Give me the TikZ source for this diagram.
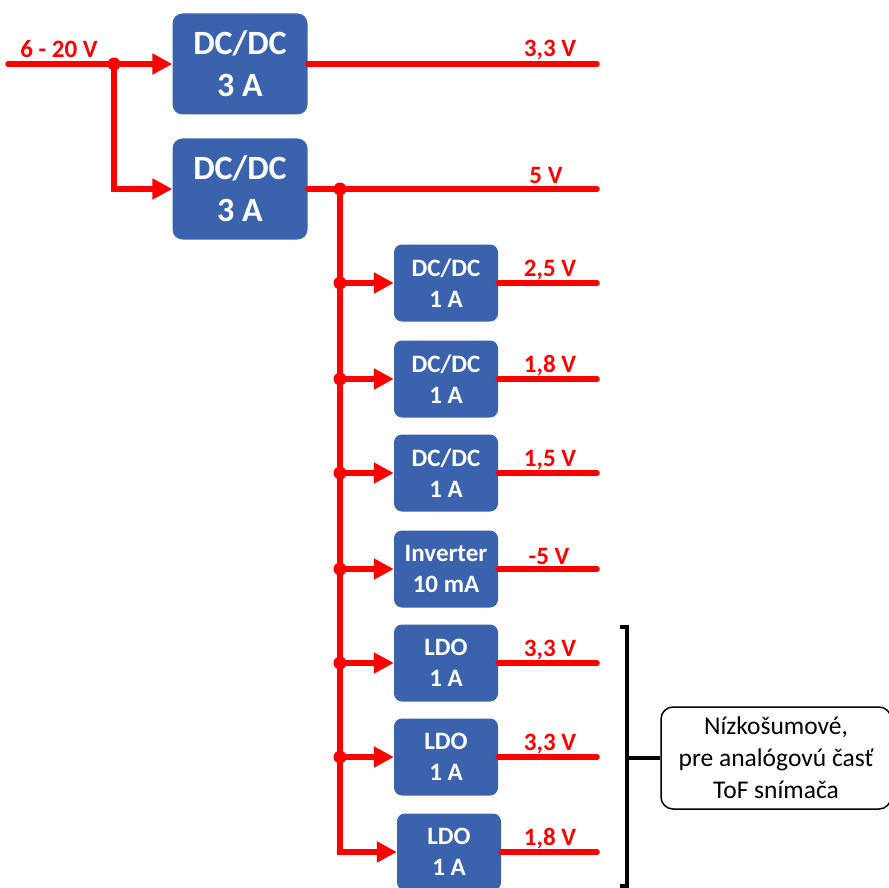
\documentclass[tikz,border=0pt]{standalone}
\usepackage{fontspec}
\setmainfont{Carlito}
\usetikzlibrary{arrows.meta,positioning}
\definecolor{boxblue}{RGB}{59,99,173}
\definecolor{wirered}{RGB}{255,0,0}

\begin{document}
\begin{tikzpicture}[x=1pt, y=-1pt,
  bigbox/.style={fill=boxblue, rounded corners=10pt, minimum width=135pt, minimum height=101pt,
                 inner sep=0pt, align=center, text=white, font=\fontsize{34}{42}\selectfont\bfseries},
  smallbox/.style={fill=boxblue, rounded corners=8pt, minimum width=104pt, minimum height=77pt,
                   inner sep=0pt, align=center, text=white, font=\fontsize{25}{31}\selectfont\bfseries},
  wire/.style={wirered, line width=5.5pt, line cap=round},
  arr/.style={wirered, line width=5.5pt, -{Triangle[length=20pt, width=20pt]}},
  dot/.style={circle, fill=wirered, inner sep=0pt, minimum size=13pt},
  volt/.style={wirered, inner sep=0pt, font=\fontsize{25}{27}\selectfont\bfseries},
  brk/.style={black, line width=3.5pt},
  note/.style={draw, rounded corners=12pt, line width=1.5pt, minimum width=230pt, minimum height=102pt,
               inner sep=0pt, align=center, font=\fontsize{25.5}{32}\selectfont}
]
\useasboundingbox (0,0) rectangle (889,888);

% Input and the two main converters
\coordinate (in) at (8,64);
\node[volt] (vin) at (59,49) {6 - 20 V};
\node[bigbox] (dc1) at (240,64) {DC/DC\\3 A};
\node[bigbox] (dc2) at (240,189) {DC/DC\\3 A};
\node[dot] (j1) at (114,64) {};

\draw[wire] (in) -- (j1.center);
\draw[arr] (j1.center) -- (dc1.west);
\draw[arr] (j1.center) |- (dc2.west);

% Main outputs
\coordinate (o1) at (597,64);
\coordinate (o2) at (597,189);
\draw[wire] (dc1.east) -- (o1);
\draw[wire] (dc2.east) -- (o2);
\node[volt] (v1) at (550,50) {3,3 V};
\node[volt] (v2) at (546,175) {5 V};

% 5 V bus
\node[dot] (j2) at (340,189) {};

% Secondary converters
\node[smallbox] (dc3) at (446,283) {DC/DC\\1 A};
\node[smallbox] (dc4) at (446,379) {DC/DC\\1 A};
\node[smallbox] (dc5) at (446,473) {DC/DC\\1 A};
\node[smallbox] (inv) at (446,569) {Inverter\\10 mA};
\node[smallbox] (ldo1) at (446,663) {LDO\\1 A};
\node[smallbox] (ldo2) at (446,757) {LDO\\1 A};
\node[smallbox] (ldo3) at (449,852) {LDO\\1 A};

\draw[arr] (j2.center) |- (ldo3.west);

\node[dot] (j3) at (340,283) {};
\node[dot] (j4) at (340,379) {};
\node[dot] (j5) at (340,473) {};
\node[dot] (j6) at (340,569) {};
\node[dot] (j7) at (340,663) {};
\node[dot] (j8) at (340,757) {};

\draw[arr] (j3.center) -- (dc3.west);
\draw[arr] (j4.center) -- (dc4.west);
\draw[arr] (j5.center) -- (dc5.west);
\draw[arr] (j6.center) -- (inv.west);
\draw[arr] (j7.center) -- (ldo1.west);
\draw[arr] (j8.center) -- (ldo2.west);

% Secondary outputs
\coordinate (o3) at (597,283);
\coordinate (o4) at (597,379);
\coordinate (o5) at (597,473);
\coordinate (o6) at (597,569);
\coordinate (o7) at (597,663);
\coordinate (o8) at (597,757);
\coordinate (o9) at (597,852);
\draw[wire] (dc3.east) -- (o3);
\draw[wire] (dc4.east) -- (o4);
\draw[wire] (dc5.east) -- (o5);
\draw[wire] (inv.east) -- (o6);
\draw[wire] (ldo1.east) -- (o7);
\draw[wire] (ldo2.east) -- (o8);
\draw[wire] (ldo3.east) -- (o9);

\node[volt] (v3) at (550,270) {2,5 V};
\node[volt] (v4) at (550,366) {1,8 V};
\node[volt] (v5) at (550,460) {1,5 V};
\node[volt] (v6) at (549,556) {-5 V};
\node[volt] (v7) at (550,650) {3,3 V};
\node[volt] (v8) at (550,744) {3,3 V};
\node[volt] (v9) at (550,839) {1,8 V};

% Bracket and note for the low-noise rails
\coordinate (bt) at (620,627);
\coordinate (bb) at (620,886);
\coordinate (bm) at (627,758);
\node[note] (nz) at (776,758) {N\'{\i}zko\v{s}umov\'e,\\pre anal\'ogov\'u \v{c}as\v{t}\\ToF sn\'{\i}ma\v{c}a};

\draw[brk] (bt) -- ([xshift=7pt]bt) -- ([xshift=7pt]bb) -- (bb);
\draw[brk] (bm) -- (nz.west);

\end{tikzpicture}
\end{document}
